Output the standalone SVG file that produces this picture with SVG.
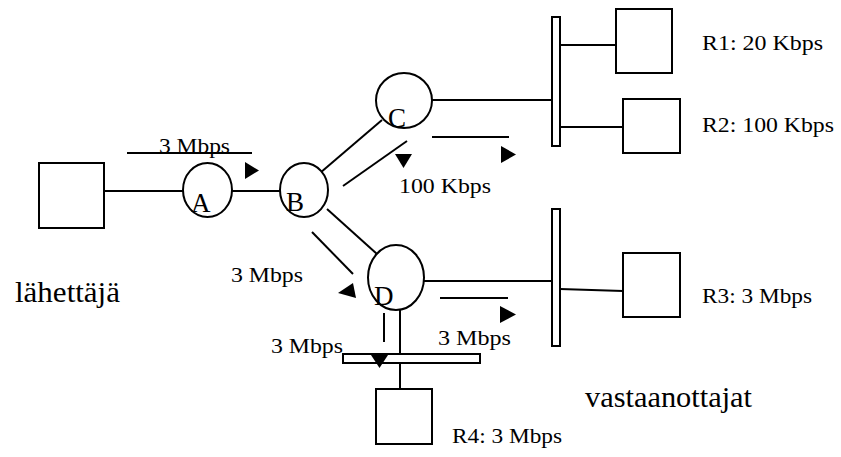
<svg xmlns="http://www.w3.org/2000/svg" width="841" height="457" viewBox="0 0 841 457">
<style>
.s{fill:#fff;stroke:#000;stroke-width:2}
.l{stroke:#000;stroke-width:2;fill:none}
.a{fill:#000;stroke:none}
.t{font-size:22px}
.n{font-size:27px}
.b{font-size:29px}
</style>
<rect width="841" height="457" fill="#fff"/>
<g id="connectors">
<line class="l" x1="104" y1="191" x2="183" y2="191"/>
<line class="l" x1="232" y1="191" x2="280" y2="191"/>
<line class="l" x1="320" y1="173" x2="382" y2="120"/>
<line class="l" x1="327" y1="209" x2="377" y2="254"/>
<line class="l" x1="432" y1="100" x2="552" y2="100"/>
<line class="l" x1="424" y1="281" x2="552" y2="281"/>
<line class="l" x1="560" y1="45" x2="616" y2="45"/>
<line class="l" x1="560" y1="127" x2="623" y2="127"/>
<line class="l" x1="560" y1="289" x2="623" y2="291"/>
<line class="l" x1="400" y1="310" x2="400" y2="354"/>
<line class="l" x1="400" y1="363" x2="400" y2="389"/>
</g>
<g font-family="Liberation Serif, Times New Roman, Times, serif" fill="#000">
<g id="sender"><rect class="s" x="39" y="163" width="65" height="65"/></g>
<g id="A"><ellipse class="s" cx="207.5" cy="190" rx="24.5" ry="27"/><text class="n" x="191" y="212">A</text></g>
<g id="B"><ellipse class="s" cx="304" cy="190" rx="24" ry="27"/><text class="n" x="286" y="211">B</text></g>
<g id="C"><ellipse class="s" cx="404" cy="100.5" rx="28" ry="27.5"/><text class="n" x="388" y="127">C</text></g>
<g id="D"><ellipse class="s" cx="396" cy="277.5" rx="28" ry="32.5"/><text class="n" x="374" y="305">D</text></g>
<g id="bus1"><rect class="s" x="552" y="17" width="8" height="129"/></g>
<g id="bus2"><rect class="s" x="552" y="209" width="8" height="137"/></g>
<g id="bus3"><rect class="s" x="343" y="354" width="137" height="9"/></g>
<g id="R1"><rect class="s" x="616" y="9" width="56" height="64"/></g>
<g id="R2"><rect class="s" x="623" y="99" width="57" height="54"/></g>
<g id="R3"><rect class="s" x="623" y="253" width="57" height="64"/></g>
<g id="R4"><rect class="s" x="376" y="389" width="56" height="55"/></g>
<g id="flows">
<line class="l" x1="127" y1="153" x2="252" y2="153"/>
<polygon class="a" points="245,162 245,179 259,170.5"/>
<line class="l" x1="343" y1="186" x2="407" y2="141"/>
<polygon class="a" points="395,154 412,154 403.5,168"/>
<line class="l" x1="432" y1="137" x2="509" y2="137"/>
<polygon class="a" points="501,146 501,163 516,154.5"/>
<line class="l" x1="312" y1="232" x2="353" y2="274"/>
<polygon class="a" points="338,293 353,283 356,298"/>
<line class="l" x1="440" y1="298" x2="508" y2="298"/>
<polygon class="a" points="500,306 500,323 516,314.5"/>
<line class="l" x1="384" y1="313" x2="384" y2="342"/>
<polygon class="a" points="371,355 388,355 379.5,368"/>
</g>
<g id="labels">
<text class="t" x="159" y="153" textLength="71" lengthAdjust="spacingAndGlyphs">3 Mbps</text>
<text class="t" x="399" y="193" textLength="92" lengthAdjust="spacingAndGlyphs">100 Kbps</text>
<text class="t" x="231" y="282" textLength="72" lengthAdjust="spacingAndGlyphs">3 Mbps</text>
<text class="t" x="271" y="353" textLength="72" lengthAdjust="spacingAndGlyphs">3 Mbps</text>
<text class="t" x="438" y="345" textLength="73" lengthAdjust="spacingAndGlyphs">3 Mbps</text>
<text class="t" x="702" y="50" textLength="121" lengthAdjust="spacingAndGlyphs">R1: 20 Kbps</text>
<text class="t" x="702" y="132" textLength="132" lengthAdjust="spacingAndGlyphs">R2: 100 Kbps</text>
<text class="t" x="702" y="303" textLength="110" lengthAdjust="spacingAndGlyphs">R3: 3 Mbps</text>
<text class="t" x="452" y="443" textLength="110" lengthAdjust="spacingAndGlyphs">R4: 3 Mbps</text>
<text class="b" x="15" y="302" textLength="105" lengthAdjust="spacingAndGlyphs">lähettäjä</text>
<text class="b" x="585" y="407" textLength="167" lengthAdjust="spacingAndGlyphs">vastaanottajat</text>
</g>
</g>
</svg>
